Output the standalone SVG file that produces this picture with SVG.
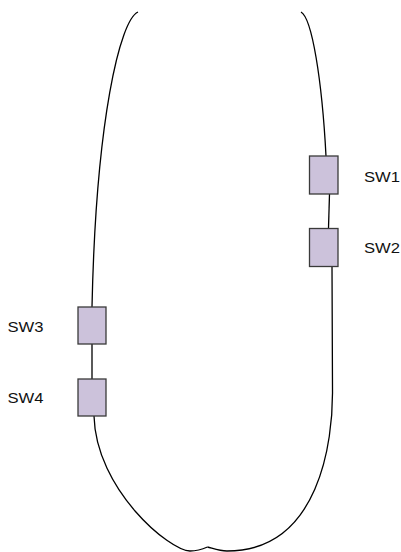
<svg xmlns="http://www.w3.org/2000/svg" width="401" height="552" viewBox="0 0 401 552">
<style>
.sw{fill:#CCC2DB;stroke:#3A3A3A;stroke-width:1.3}
.lbl{font-family:"Liberation Sans",Arial,sans-serif;font-size:15px;fill:#111}
.wire{fill:none;stroke:#000;stroke-width:1.3}
</style>
<rect width="401" height="552" fill="#fff"/>
<g id="connectors">
<path class="wire" d="M138,12 C120,20 96,120 92,307"/>
<path class="wire" d="M92,344 L92,379"/>
<path class="wire" d="M94,416 C96,490 170,551 190,551 C198,551 203,549 207.5,547"/>
<path class="wire" d="M301,12 C312,18 322,80 326,156"/>
<path class="wire" d="M329.5,194 L328.5,228"/>
<path class="wire" d="M332,266 L332.5,390 C333,440 320,551 227,551 C219,551 212,548 207.5,547"/>
</g>
<g id="sw1">
<rect class="sw" x="309.5" y="156" width="28.5" height="38"/>
<text class="lbl" x="364" y="182" textLength="36" lengthAdjust="spacingAndGlyphs">SW1</text>
</g>
<g id="sw2">
<rect class="sw" x="309.5" y="228.5" width="28.5" height="38"/>
<text class="lbl" x="364" y="253" textLength="36" lengthAdjust="spacingAndGlyphs">SW2</text>
</g>
<g id="sw3">
<rect class="sw" x="78" y="307" width="28" height="37"/>
<text class="lbl" x="7.5" y="332" textLength="36" lengthAdjust="spacingAndGlyphs">SW3</text>
</g>
<g id="sw4">
<rect class="sw" x="78" y="379" width="28" height="37"/>
<text class="lbl" x="7.5" y="403" textLength="36" lengthAdjust="spacingAndGlyphs">SW4</text>
</g>
</svg>
